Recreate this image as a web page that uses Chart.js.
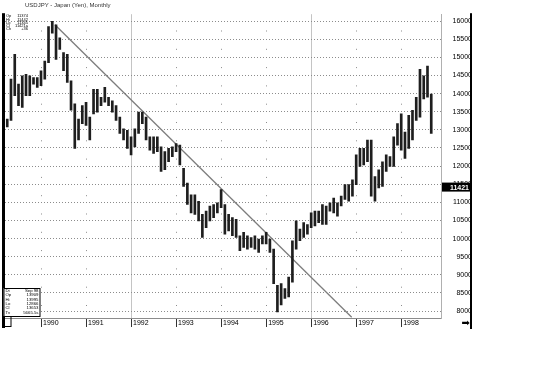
<!DOCTYPE html>
<html>
<head>
<meta charset="utf-8">
<script src="https://cdn.jsdelivr.net/npm/chart.js@4/dist/chart.umd.min.js"></script>
<style>
    html, body { margin: 0; padding: 0; background: #fff; }
    canvas { display: block; }
</style>
</head>
<body>
<canvas id="chart-usdjpy" width="546" height="370"></canvas>
<script>
/**
 * USDJPY mensal (abr/1989 - set/1998), barras máxima/mínima
 */

const TITULO = 'USDJPY - Japan (Yen), Monthly';
const ANOS = ['1990', '1991', '1992', '1993', '1994', '1995', '1996', '1997', '1998'];
// posição (índice do mês) de cada janeiro
const JANEIROS = [9, 21, 33, 45, 57, 69, 81, 93, 105];
const TICKS_Y = [8000, 8500, 9000, 9500, 10000, 10500, 11000, 11500, 12000, 12500,
    13000, 13500, 14000, 14500, 15000, 15500, 16000];

const MAXIMAS = [
    13300, 14400, 15080, 14260, 14490, 14530, 14490, 14440, 14440,
    14630, 14900, 15850, 15990, 15900, 15540, 15130, 15080, 14350, 13720, 13300, 13670,
    13760, 13350, 14120, 14120, 13900, 14170, 13900, 13800, 13670, 13350, 13030, 12990,
    12810, 13030, 13490, 13490, 13350, 12810, 12810, 12810, 12530, 12400, 12490, 12530,
    12620, 12580, 11940, 11530, 11210, 11210, 11030, 10670, 10760, 10900, 10940, 10990,
    11350, 10940, 10670, 10580, 10530, 10080, 10170, 10080, 10030, 10080, 9990, 10080,
    10170, 9990, 9710, 8710, 8760, 8620, 8940, 9940, 10490, 10260, 10440, 10390,
    10710, 10760, 10760, 10940, 10900, 10990, 11120, 10990, 11170, 11490, 11490, 11620,
    12310, 12490, 12490, 12720, 12720, 11710, 11900, 12120, 12310, 12260, 12810, 13170,
    13440, 12940, 13400, 13540, 13900, 14670, 14490, 14760, 13990
];
const MINIMAS = [
    13080, 13260, 13940, 13670, 13620, 13940, 13940, 14260, 14170,
    14220, 14400, 14850, 15670, 14940, 15220, 14630, 14310, 13540, 12490, 12720, 13170,
    13120, 12720, 13440, 13490, 13670, 13760, 13670, 13490, 13260, 12900, 12720, 12490,
    12310, 12530, 12900, 13170, 12720, 12440, 12350, 12400, 11850, 11900, 12120, 12260,
    12400, 12030, 11440, 10940, 10710, 10670, 10490, 10030, 10300, 10490, 10580, 10710,
    10850, 10120, 10210, 10080, 10030, 9670, 9760, 9710, 9760, 9710, 9620, 9850,
    9850, 9620, 8760, 7980, 8170, 8350, 8390, 8800, 9710, 9940, 10030, 10120,
    10300, 10350, 10440, 10390, 10390, 10760, 10710, 10620, 10900, 11080, 11030, 11170,
    11490, 11990, 12030, 12120, 11170, 11030, 11400, 11440, 11850, 11990, 11990, 12580,
    12440, 12210, 12490, 12720, 13260, 13350, 13850, 13900, 12900
];

// linha de tendência: do topo de 1990 até a base do gráfico
const TENDENCIA_X = [12.7, 91.8];
const TENDENCIA_Y = [15900, 7830];

const ULTIMO_PRECO = 11421;
const INFO_TOPO = [['Op', '11374'], ['Hi', '11442'], ['Lo', '11345'], ['Cl', '11421a'], ['Ch', '+36']];
const INFO_BASE = [['Dt', 'Sep 98'], ['Op', '13909'], ['Hi', '13995'], ['Lo', '12866'], ['Cl', '13653'], ['Tv', '5665.5s']];

const FONTE = "'Liberation Sans', Arial, sans-serif";
Chart.defaults.font.family = FONTE;

const ehLinhaCheia = (c) => c.tick && (c.tick.value === 33 || c.tick.value === 81);

const molduraPlugin = {
    id: 'moldura',
    afterDraw(chart) {
        const { ctx, chartArea } = chart;
        const escalaY = chart.scales.y;
        ctx.save();

        // bordas grossas à esquerda e à direita
        ctx.fillStyle = '#000';
        ctx.fillRect(chartArea.left - 3, chartArea.top - 1, 3, chartArea.bottom - chartArea.top + 11);
        ctx.fillRect(escalaY.right - 2, chartArea.top - 1, 2, chartArea.bottom - chartArea.top + 12);

        // título
        ctx.fillStyle = '#333';
        ctx.font = '6px ' + FONTE;
        ctx.textBaseline = 'middle';
        ctx.textAlign = 'left';
        ctx.fillText(TITULO, 25, 5);

        // etiqueta do último preço
        const py = escalaY.getPixelForValue(ULTIMO_PRECO);
        ctx.fillStyle = '#000';
        ctx.fillRect(escalaY.left + 1, py - 4.5, escalaY.width - 3, 9);
        ctx.fillStyle = '#fff';
        ctx.font = 'bold 7px ' + FONTE;
        ctx.textAlign = 'right';
        ctx.fillText(String(ULTIMO_PRECO), escalaY.right - 3, py + 0.5);

        // seta
        ctx.fillStyle = '#000';
        ctx.font = '10px "DejaVu Sans"';
        ctx.textAlign = 'right';
        ctx.fillText('\u27A1', escalaY.right - 2, chartArea.bottom + 5);

        // caixa de informação superior
        ctx.font = '4px ' + FONTE;
        INFO_TOPO.forEach(([rotulo, valor], i) => {
            const y = chartArea.top + 2 + i * 3.2;
            ctx.textAlign = 'left';
            ctx.fillText(rotulo, chartArea.left + 1, y);
            ctx.textAlign = 'right';
            ctx.fillText(valor, chartArea.left + 23, y);
        });

        // caixa de informação inferior
        const bx = chartArea.left - 1.5;
        const by = chartArea.bottom - 30;
        ctx.fillStyle = '#fff';
        ctx.fillRect(bx, by, 36.5, 28);
        ctx.strokeStyle = '#000';
        ctx.lineWidth = 1;
        ctx.strokeRect(bx + 0.5, by + 0.5, 36, 28);
        ctx.fillStyle = '#000';
        ctx.font = '4.3px ' + FONTE;
        INFO_BASE.forEach(([rotulo, valor], i) => {
            const y = by + 3 + i * 4.3;
            ctx.textAlign = 'left';
            ctx.fillText(rotulo, bx + 2, y);
            ctx.textAlign = 'right';
            ctx.fillText(valor, bx + 35, y);
        });
        ctx.strokeRect(bx + 0.5, chartArea.bottom - 1.5, 7, 10);

        ctx.restore();
    }
};

const ctx = document.getElementById('chart-usdjpy');

new Chart(ctx, {
    type: 'bar',
    data: {
        datasets: [{
            type: 'bar',
            data: MAXIMAS.map((h, i) => ({ x: i, y: [MINIMAS[i], h] })),
            backgroundColor: '#1e1e1e',
            borderWidth: 0,
            barThickness: 2
        }, {
            type: 'line',
            data: TENDENCIA_X.map((x, i) => ({ x: x, y: TENDENCIA_Y[i] })),
            borderColor: '#7d7d7d',
            borderWidth: 1.3,
            pointRadius: 0,
            fill: false
        }]
    },
    options: {
        responsive: false,
        animation: false,
        layout: { padding: { left: 5, right: 74, top: 11, bottom: 40 } },
        plugins: {
            legend: { display: false },
            tooltip: { enabled: false }
        },
        scales: {
            x: {
                type: 'linear',
                position: 'bottom',
                offset: false,
                min: -0.6,
                max: 115.6,
                afterBuildTicks: (s) => { s.ticks = JANEIROS.map(v => ({ value: v })); },
                afterFit: (s) => { s.height = 12; },
                ticks: {
                    autoSkip: false,
                    maxRotation: 0,
                    align: 'start',
                    labelOffset: 2,
                    padding: -8,
                    color: '#000',
                    font: { size: 7 },
                    callback: (v) => ANOS[JANEIROS.indexOf(v)]
                },
                grid: {
                    offset: false,
                    color: (c) => ehLinhaCheia(c) ? '#c4c4c4' : '#8c8c8c',
                    tickColor: '#333',
                    tickLength: 9,
                    tickWidth: 1
                },
                border: {
                    color: '#8c8c8c',
                    dash: (c) => ehLinhaCheia(c) ? [] : [1, 17.3],
                    dashOffset: 2
                }
            },
            y: {
                position: 'right',
                min: 7810,
                max: 16190,
                afterBuildTicks: (s) => { s.ticks = TICKS_Y.map(v => ({ value: v })); },
                afterFit: (s) => { s.width = 31; },
                ticks: {
                    crossAlign: 'far',
                    padding: 10,
                    color: '#000',
                    font: { size: 7 },
                    callback: (v) => String(v)
                },
                grid: {
                    color: '#8c8c8c',
                    drawTicks: false
                },
                border: {
                    color: '#b0b0b0',
                    dash: [1, 2]
                }
            }
        }
    },
    plugins: [molduraPlugin]
});
</script>
</body>
</html>
